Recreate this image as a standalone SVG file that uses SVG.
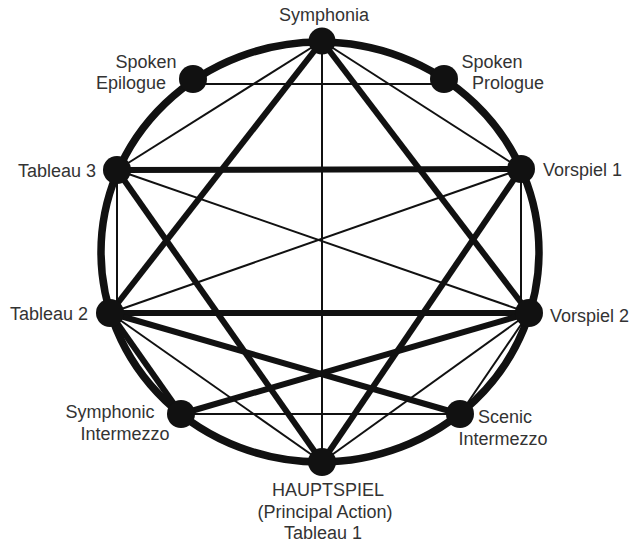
<svg xmlns="http://www.w3.org/2000/svg" width="633" height="548" viewBox="0 0 633 548">
<style>
.thin{stroke:#111;stroke-width:2;fill:none}
.thick{stroke:#111;stroke-width:6;fill:none}
.ring{stroke:#111;stroke-width:7.5;fill:none}
.dot{fill:#111}
text{font-family:"Liberation Sans",Arial,sans-serif;font-size:18px;fill:#333}
.m{text-anchor:middle}
</style>
<rect width="633" height="548" fill="#fff"/>
<ellipse class="ring" cx="320" cy="252" rx="219" ry="210"/>
<g id="connectors">
<line class="thin" x1="322" y1="41" x2="322" y2="462"/>
<line class="thin" x1="322" y1="41" x2="117" y2="170"/>
<line class="thin" x1="322" y1="41" x2="521" y2="169"/>
<line class="thin" x1="193" y1="84" x2="444" y2="84"/>
<line class="thin" x1="117" y1="170" x2="117" y2="313"/>
<line class="thin" x1="521" y1="169" x2="521" y2="313"/>
<line class="thin" x1="117" y1="170" x2="529" y2="313"/>
<line class="thin" x1="521" y1="169" x2="110" y2="313"/>
<line class="thin" x1="110" y1="313" x2="322" y2="462"/>
<line class="thin" x1="529" y1="313" x2="322" y2="462"/>
<line class="thin" x1="181" y1="414" x2="460" y2="414"/>
<line class="thin" x1="529" y1="313" x2="460" y2="414"/>
<line class="thick" x1="322" y1="41" x2="110" y2="313"/>
<line class="thick" x1="322" y1="41" x2="529" y2="313"/>
<line class="thick" x1="117" y1="170" x2="521" y2="169"/>
<line class="thick" x1="110" y1="313" x2="529" y2="313"/>
<line class="thick" x1="117" y1="170" x2="322" y2="462"/>
<line class="thick" x1="521" y1="169" x2="322" y2="462"/>
<line class="thick" x1="110" y1="313" x2="460" y2="414"/>
<line class="thick" x1="181" y1="414" x2="529" y2="313"/>
<line class="thick" x1="110" y1="313" x2="181" y2="414"/>
</g>
<g id="symphonia"><circle class="dot" cx="322" cy="41" r="13.5"/><text class="m" x="324" y="21">Symphonia</text></g>
<g id="spoken-epilogue"><circle class="dot" cx="193" cy="79" r="14"/><text class="m" x="146" y="68">Spoken</text><text class="m" x="131" y="89">Epilogue</text></g>
<g id="spoken-prologue"><circle class="dot" cx="444" cy="79" r="14"/><text class="m" x="492" y="68">Spoken</text><text class="m" x="508" y="89">Prologue</text></g>
<g id="tableau-3"><circle class="dot" cx="117" cy="170" r="14"/><text x="18" y="177">Tableau 3</text></g>
<g id="vorspiel-1"><circle class="dot" cx="521" cy="169" r="14"/><text x="543" y="176">Vorspiel 1</text></g>
<g id="tableau-2"><circle class="dot" cx="110" cy="313" r="14"/><text x="10" y="320">Tableau 2</text></g>
<g id="vorspiel-2"><circle class="dot" cx="529" cy="313" r="14"/><text x="550" y="322">Vorspiel 2</text></g>
<g id="symphonic-intermezzo"><circle class="dot" cx="181" cy="414" r="14"/><text class="m" x="110" y="418">Symphonic</text><text class="m" x="125" y="440">Intermezzo</text></g>
<g id="scenic-intermezzo"><circle class="dot" cx="460" cy="414" r="14"/><text class="m" x="505" y="423">Scenic</text><text class="m" x="503" y="445">Intermezzo</text></g>
<g id="hauptspiel"><circle class="dot" cx="322" cy="462" r="14"/><text class="m" x="328" y="496">HAUPTSPIEL</text><text class="m" x="325" y="518">(Principal Action)</text><text class="m" x="323" y="539">Tableau 1</text></g>
</svg>
